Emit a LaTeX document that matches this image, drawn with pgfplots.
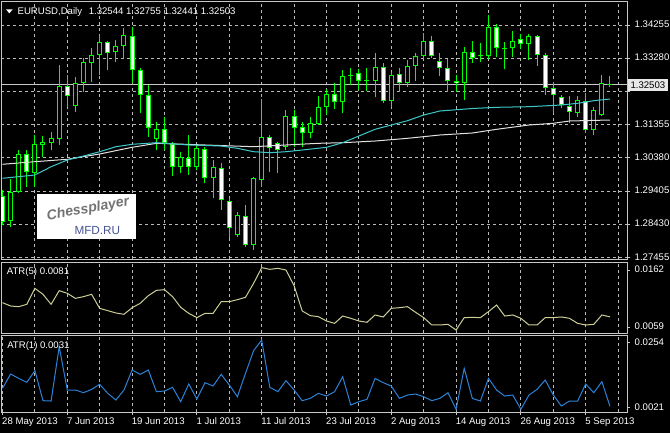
\documentclass[border=0pt]{standalone}
\usepackage{pgfplots}
\pgfplotsset{compat=1.18}
\usepackage{pgfplotstable}
\usepackage{fontspec}
\setmainfont{Liberation Sans}

\definecolor{candle}{RGB}{0,255,0}
\definecolor{gridc}{RGB}{185,185,185}
\definecolor{framec}{RGB}{200,200,200}
\definecolor{maFast}{RGB}{64,200,200}
\definecolor{maSlow}{RGB}{225,225,225}
\definecolor{atrFive}{RGB}{205,205,150}
\definecolor{atrOne}{RGB}{45,130,215}
\definecolor{boxc}{RGB}{232,232,232}
\definecolor{logoblue}{RGB}{70,85,150}

\newcommand\mt{\fontsize{7.2}{8.6}\selectfont}

% daily candles, bar index from 28 May 2013
\pgfplotstableread{
i O H L C
1 1.28537 1.29745 1.28362 1.29385
2 1.29385 1.30602 1.29355 1.30485
4 1.29920 1.31040 1.29531 1.30768
5 1.30748 1.31011 1.30407 1.30836
6 1.30816 1.31138 1.30602 1.30953
7 1.30933 1.33086 1.30748 1.32472
9 1.31888 1.32745 1.31722 1.32570
10 1.32570 1.33281 1.32307 1.33164
11 1.33154 1.33573 1.32599 1.33378
12 1.33378 1.33962 1.32794 1.33768
14 1.33475 1.33816 1.33183 1.33651
15 1.33651 1.34157 1.33251 1.33953
19 1.30914 1.31430 1.30602 1.31206
22 1.30115 1.30553 1.29920 1.30388
24 1.30115 1.30748 1.30018 1.30651
26 1.29774 1.30310 1.29190 1.30096
29 1.28118 1.28800 1.28070 1.28703
31 1.27826 1.29823 1.27680 1.29774
32 1.29726 1.32083 1.29531 1.30972
35 1.30700 1.31771 1.30602 1.31596
38 1.31089 1.31557 1.30943 1.31401
39 1.31362 1.32180 1.31333 1.31849
40 1.31868 1.32375 1.31625 1.32239
42 1.31995 1.32940 1.31674 1.32764
46 1.32618 1.33446 1.32141 1.33037
48 1.32044 1.32891 1.31849 1.32794
50 1.32570 1.33232 1.32453 1.33066
51 1.33057 1.33446 1.32628 1.33349
52 1.33349 1.34031 1.33251 1.33797
57 1.32550 1.33622 1.32063 1.33475
60 1.33349 1.34547 1.33251 1.34187
63 1.33573 1.34089 1.33329 1.33797
65 1.33690 1.33992 1.33232 1.33943
71 1.31693 1.32180 1.31576 1.32063
73 1.31187 1.31868 1.31040 1.31771
74 1.31625 1.32794 1.31596 1.32550
}\bull

\pgfplotstableread{
i O H L C
0 1.29258 1.29433 1.28411 1.28508
3 1.30485 1.30602 1.29531 1.29950
8 1.32472 1.32794 1.31868 1.32180
13 1.33768 1.33787 1.32940 1.33446
16 1.33943 1.34206 1.32550 1.32940
17 1.32940 1.32988 1.31674 1.32209
18 1.32209 1.32501 1.30992 1.31235
20 1.31206 1.31557 1.30602 1.30816
21 1.30768 1.30846 1.29842 1.30115
23 1.30359 1.31040 1.29872 1.30096
25 1.30622 1.30700 1.29628 1.29774
27 1.30066 1.30213 1.28849 1.29141
28 1.29122 1.29190 1.28021 1.28313
30 1.28683 1.28995 1.27778 1.27826
33 1.30972 1.31040 1.29969 1.30651
34 1.30797 1.30846 1.29920 1.30602
36 1.31596 1.31771 1.30700 1.31235
37 1.31265 1.31430 1.30680 1.31089
41 1.32229 1.32570 1.31790 1.31995
43 1.32774 1.32988 1.32501 1.32755
44 1.32862 1.32959 1.32355 1.32618
45 1.32628 1.32988 1.32326 1.32609
47 1.33018 1.33135 1.31966 1.32044
49 1.32823 1.32988 1.32307 1.32570
53 1.33797 1.33933 1.33281 1.33359
54 1.33213 1.33446 1.32764 1.32988
55 1.32988 1.33251 1.32307 1.32618
56 1.32628 1.32794 1.32307 1.32550
58 1.33475 1.33797 1.33135 1.33281
59 1.33359 1.33719 1.33183 1.33349
61 1.34187 1.34284 1.33329 1.33573
62 1.33573 1.33768 1.32959 1.33553
64 1.33846 1.33992 1.33544 1.33690
66 1.33933 1.33962 1.33057 1.33378
67 1.33378 1.33446 1.32209 1.32404
68 1.32404 1.32599 1.31674 1.32209
69 1.32141 1.32209 1.31820 1.31917
70 1.31898 1.32180 1.31381 1.31703
72 1.32044 1.32258 1.31109 1.31187
75 1.32544 1.32755 1.32441 1.32503
}\bear

\pgfplotstableread{
i v
0 1.29776
4 1.29872
6 1.30114
8 1.30310
10 1.30427
12 1.30553
14 1.30699
16 1.30769
19 1.30816
23 1.30749
27 1.30719
29 1.30652
31 1.30553
33 1.30524
35 1.30553
37 1.30602
40 1.30681
42 1.30816
44 1.31012
46 1.31207
48 1.31333
50 1.31459
52 1.31625
54 1.31742
58 1.31815
61 1.31850
65 1.31868
69 1.31917
71 1.31967
73 1.32043
75 1.32093
}\fastma

\pgfplotstableread{
i v
0 1.30185
4 1.30261
8 1.30331
12 1.30486
16 1.30681
19 1.30798
25 1.30749
31 1.30699
35 1.30749
39 1.30798
42 1.30816
46 1.30865
50 1.30944
54 1.31041
58 1.31099
61 1.31207
65 1.31333
68 1.31383
70 1.31450
75 1.31479
}\slowma

\pgfplotstableread{
i v
0 0.01044
1 0.00989
2 0.00978
3 0.01016
4 0.01280
5 0.01181
6 0.01016
7 0.01242
8 0.01198
9 0.01115
10 0.01143
11 0.01181
12 0.00950
13 0.00912
14 0.00874
15 0.00852
16 0.00961
17 0.01033
18 0.01159
19 0.01247
20 0.01258
21 0.01143
22 0.00967
23 0.00868
24 0.00797
25 0.00868
26 0.00868
27 0.01060
28 0.01060
29 0.01093
30 0.01132
31 0.01362
32 0.01621
33 0.01593
34 0.01610
35 0.01582
36 0.01324
37 0.00907
38 0.00830
39 0.00813
40 0.00742
41 0.00703
42 0.00824
43 0.00786
44 0.00742
45 0.00720
46 0.00841
47 0.00808
48 0.00950
49 0.00961
50 0.00978
51 0.00885
52 0.00797
53 0.00676
54 0.00676
55 0.00687
56 0.00593
57 0.00797
58 0.00802
59 0.00797
60 0.00896
61 0.01005
62 0.00824
63 0.00841
64 0.00786
65 0.00676
66 0.00676
67 0.00797
68 0.00797
69 0.00808
70 0.00786
71 0.00703
72 0.00676
73 0.00687
74 0.00841
75 0.00810
}\atrfive

\pgfplotstableread{
i v
0 0.00915
1 0.01397
2 0.01251
3 0.01117
4 0.01509
5 0.00500
6 0.00489
7 0.02316
8 0.00859
9 0.00859
10 0.00769
11 0.00881
12 0.01050
13 0.00747
14 0.00523
15 0.00859
16 0.01531
17 0.01386
18 0.01531
19 0.00803
20 0.00825
21 0.00949
22 0.00467
23 0.01061
24 0.00556
25 0.01106
26 0.00993
27 0.01386
28 0.01027
29 0.00635
30 0.01419
31 0.02181
32 0.02540
33 0.00949
34 0.00803
35 0.01173
36 0.00859
37 0.00500
38 0.00579
39 0.00747
40 0.00657
41 0.00803
42 0.01307
43 0.00355
44 0.00467
45 0.00545
46 0.01251
47 0.01106
48 0.00993
49 0.00579
50 0.00691
51 0.00724
52 0.00635
53 0.00500
54 0.00579
55 0.00769
56 0.00210
57 0.01587
58 0.00579
59 0.00489
60 0.01251
61 0.00859
62 0.00657
63 0.00691
64 0.00210
65 0.00691
66 0.00881
67 0.01195
68 0.00691
69 0.00321
70 0.00489
71 0.00489
72 0.01061
73 0.00769
74 0.01139
75 0.00310
}\atrone

\pgfplotsset{
  mtpanel/.style={
    scale only axis, width=469.5pt, anchor=north west,
    xmin=-0.185, xmax=77.1,
    axis background/.style={fill=black},
    axis line style={framec, line width=0.75pt},
    scaled ticks=false,
    tick align=outside,
    major tick length=2.25pt, minor tick length=0pt,
    tick style={framec, line width=0.75pt},
    xtick={8,16,...,72}, minor xtick={4,12,...,76},
    xmajorgrids, xminorgrids,
    grid style={gridc, line width=0.75pt, dash pattern=on 2.25pt off 2.25pt},
    ytick pos=right, yticklabel pos=right,
    ticklabel style={font=\mt, text=white},
    yticklabel style={yshift=0.6pt},
  },
  nox/.style={xticklabels={}, xtick style={draw=none}},
  wick/.style={draw=none, mark=none, forget plot,
    error bars/.cd, y dir=plus, y explicit, error mark=none,
    error bar style={draw=candle, solid, line width=0.75pt}},
  bodyout/.style={draw=none, mark=none, forget plot,
    error bars/.cd, y dir=plus, y explicit, error mark=none,
    error bar style={draw=candle, solid, line width=3.75pt}},
  bodyin/.style={draw=none, mark=none, forget plot,
    error bars/.cd, y dir=plus, y explicit, error mark=none,
    error bar style={draw=#1, solid, line width=2.25pt}},
}

\begin{document}
\begin{tikzpicture}
\fill[black] (0,0) rectangle (502.5pt,-324.75pt);
\path[use as bounding box] (0,0) rectangle (502.5pt,-324.75pt);

% price panel
\begin{axis}[mtpanel, nox, at={(0.75pt,-0.75pt)}, height=193.5pt,
  ymin=1.274175, ymax=1.349563,
  ytick={1.27455,1.284264,1.293979,1.303693,1.313407,1.323121,1.332836,1.34255},
  yticklabels={1.27455,1.28430,1.29405,1.30380,1.31355,,1.33280,1.34255},
  ymajorgrids]
\addplot[framec, line width=0.75pt, forget plot] coordinates {(-1,1.32503) (78,1.32503)};
\addplot[wick] table[x=i, y=L, y error expr=\thisrow{H}-\thisrow{L}] {\bull};
\addplot[wick] table[x=i, y=L, y error expr=\thisrow{H}-\thisrow{L}] {\bear};
\addplot[bodyout] table[x=i, y expr={min(\thisrow{O},\thisrow{C})},
  y error expr={max(abs(\thisrow{C}-\thisrow{O}),0.0003)}] {\bull};
\addplot[bodyout] table[x=i, y expr={min(\thisrow{O},\thisrow{C})},
  y error expr={max(abs(\thisrow{C}-\thisrow{O}),0.0003)}] {\bear};
\addplot[bodyin=black] table[x=i, y expr={min(\thisrow{O},\thisrow{C})+0.00029},
  y error expr={max(abs(\thisrow{C}-\thisrow{O})-0.00058,0)}] {\bull};
\addplot[bodyin=white] table[x=i, y expr={min(\thisrow{O},\thisrow{C})+0.00029},
  y error expr={max(abs(\thisrow{C}-\thisrow{O})-0.00058,0)}] {\bear};
\addplot[maSlow, line width=0.75pt] table[x=i, y=v] {\slowma};
\addplot[maFast, line width=0.75pt] table[x=i, y=v] {\fastma};
\end{axis}

% ATR(5)
\begin{axis}[mtpanel, nox, at={(0.75pt,-196.5pt)}, height=53.25pt,
  ymin=0.005438, ymax=0.017139,
  ytick={0.00639,0.01582}, yticklabels={0.0059,0.0162}]
\addplot[atrFive, line width=0.75pt] table[x=i, y=v] {\atrfive};
\end{axis}

% ATR(1)
\begin{axis}[mtpanel, at={(0.75pt,-251.25pt)}, height=57.75pt,
  ymin=0.001194, ymax=0.027081,
  ytick={0.00264,0.02449}, yticklabels={0.0021,0.0254},
  xtick={0,8,...,72},
  xticklabels={28 May 2013,7 Jun 2013,19 Jun 2013,1 Jul 2013,11 Jul 2013,23 Jul 2013,2 Aug 2013,14 Aug 2013,26 Aug 2013,5 Sep 2013},
  xtick pos=bottom,
  xticklabel style={anchor=north west, inner sep=0pt, xshift=-0.4pt, yshift=-2pt}]
\addplot[atrOne, line width=0.75pt] table[x=i, y=v] {\atrone};
\end{axis}

% header and indicator names
\fill[white] (4.5pt,-7pt) -- (9.5pt,-7pt) -- (7pt,-10pt) -- cycle;
\node[anchor=base west, inner sep=0pt, text=white, font=\mt] at (13pt,-10.5pt)
  {EURUSD,Daily\hspace{5pt}1.32544 1.32755 1.32441 1.32503};
\node[anchor=base west, inner sep=0pt, text=white, font=\mt] at (5pt,-206pt) {ATR(5) 0.0081};
\node[anchor=base west, inner sep=0pt, text=white, font=\mt] at (5.25pt,-261pt) {ATR(1) 0.0031};

% current price box
\node[anchor=west, fill=boxc, text=black, font=\mt, inner xsep=2.2pt, minimum height=9pt, inner ysep=0pt]
  at (470.5pt,-63.75pt) {1.32503};

% watermark
\fill[white] (27.5pt,-145.5pt) rectangle (102pt,-179pt);
\node[rotate=10, inner sep=0pt, text=black!55, font=\fontsize{10.5}{10.5}\selectfont\bfseries\itshape] at (66pt,-157pt) {Chessplayer};
\node[inner sep=0pt, text=logoblue, font=\fontsize{8.8}{9}\selectfont] at (73pt,-173pt) {MFD{\color{red}.}RU};
\end{tikzpicture}
\end{document}
